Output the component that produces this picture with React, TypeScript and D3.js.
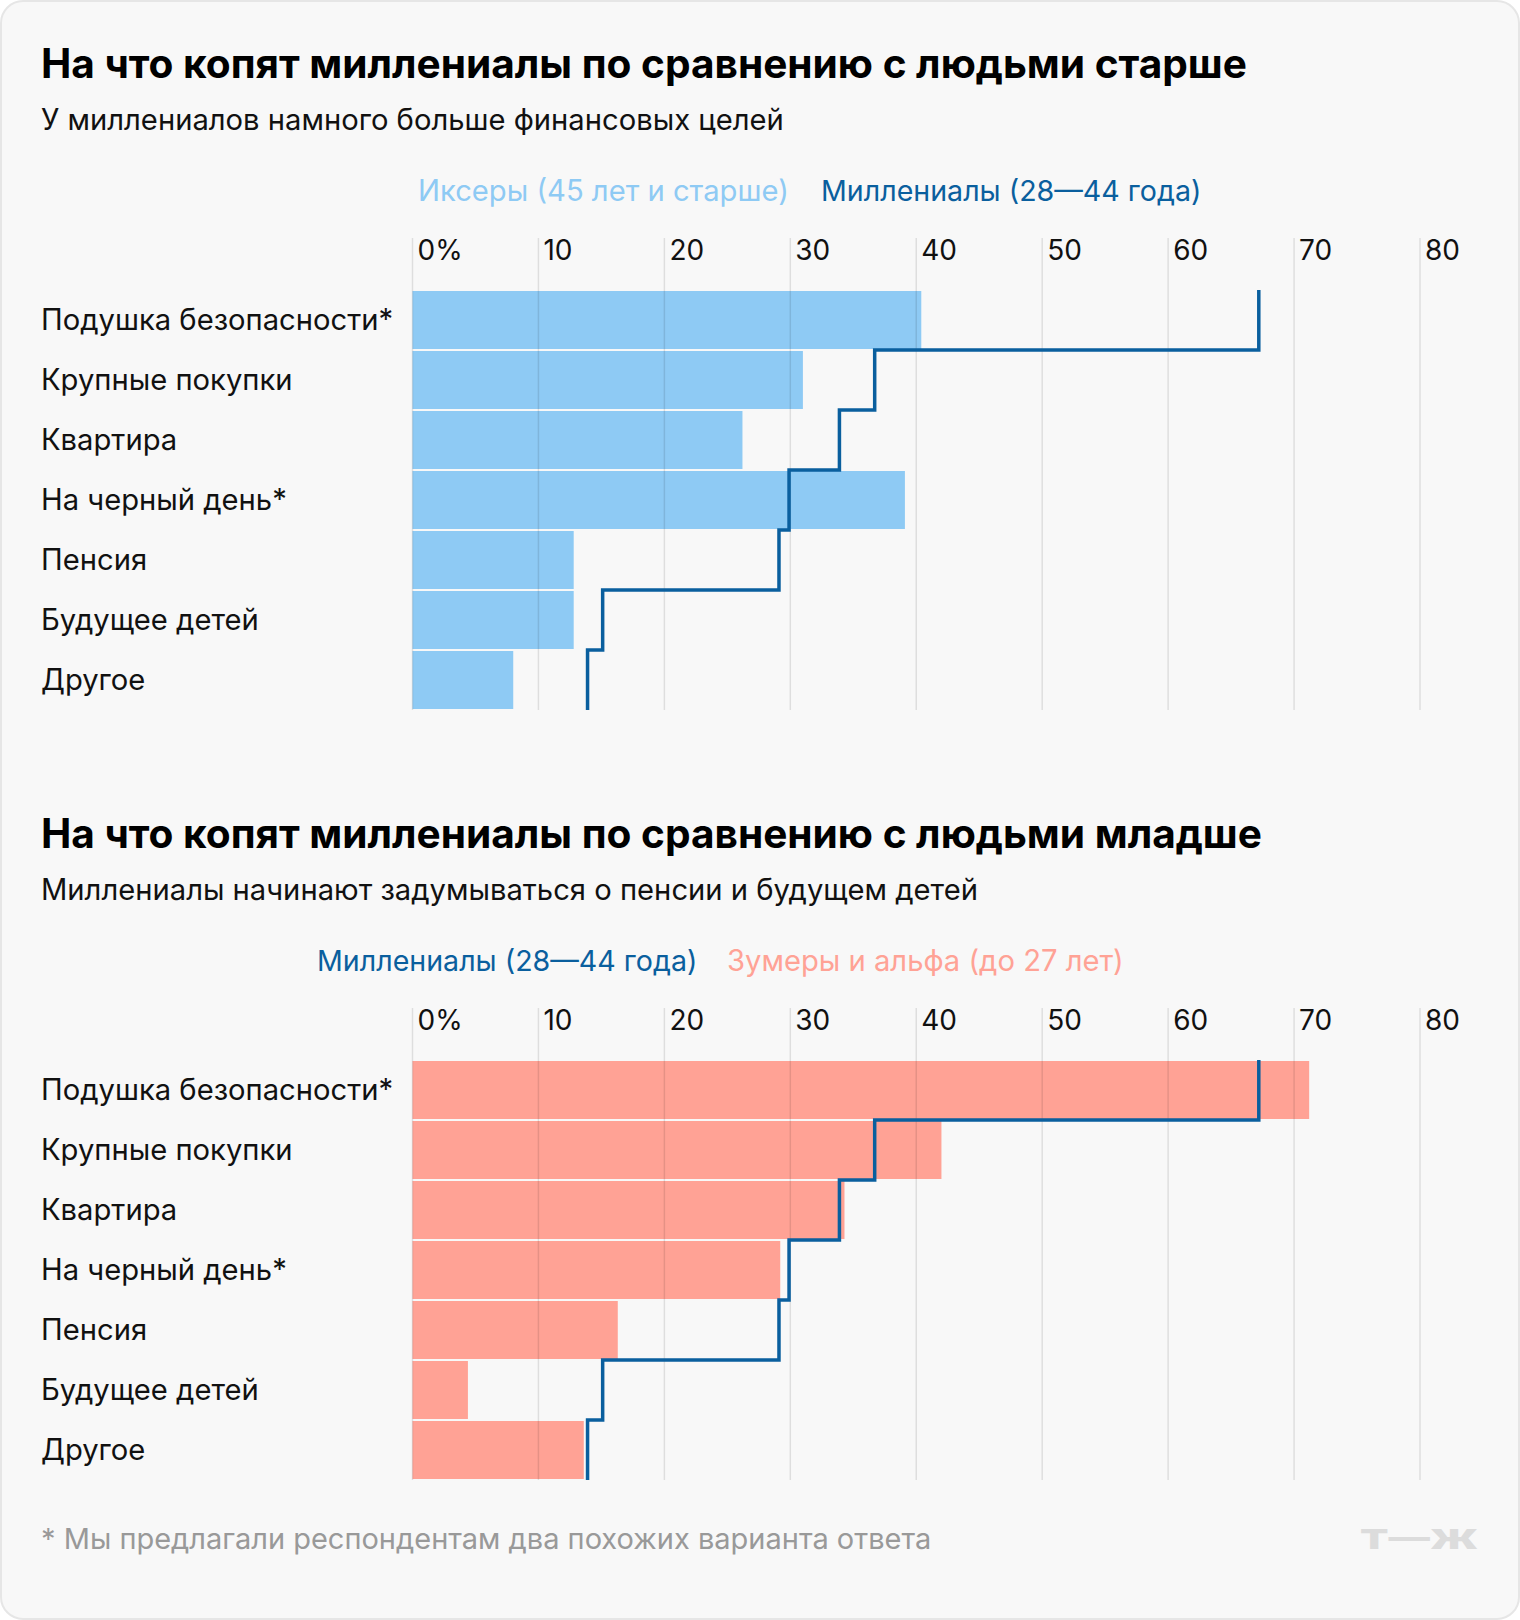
import React from "react";
import * as d3 from "d3";

const categories = [
  "Подушка безопасности*",
  "Крупные покупки",
  "Квартира",
  "На черный день*",
  "Пенсия",
  "Будущее детей",
  "Другое",
];
const xersValues = [40.4, 31.0, 26.2, 39.1, 12.8, 12.8, 8.0];
const millennialsValues = [67.2, 36.7, 33.9, 29.9, 29.1, 15.1, 13.9];
const zoomersValues = [71.2, 42.0, 34.3, 29.2, 16.3, 4.4, 13.6];
const tickValues = [0, 10, 20, 30, 40, 50, 60, 70, 80];
const tickLabels = ["0%", "10", "20", "30", "40", "50", "60", "70", "80"];

const titles = [
  "На что копят миллениалы по сравнению с людьми старше",
  "На что копят миллениалы по сравнению с людьми младше",
];
const subtitles = [
  "У миллениалов намного больше финансовых целей",
  "Миллениалы начинают задумываться о пенсии и будущем детей",
];
const legendXers = "Иксеры (45 лет и старше)";
const legendMill = "Миллениалы (28—44 года)";
const legendZoom = "Зумеры и альфа (до 27 лет)";
const footnote = "* Мы предлагали респондентам два похожих варианта ответа";

const W = 1520;
const H = 1620;
const FONT = "Inter, 'Noto Sans', sans-serif";
const LIGHT_BLUE = "#8ecaf4";
const DARK_BLUE = "#0a5f9e";
const SALMON = "#ffa295";

const x = d3.scaleLinear().domain([0, 80]).range([412.5, 1420]);

type PanelProps = {
  offset: number;
  title: string;
  subtitle: string;
  legend: { text: string; color: string; x: number; size: number }[];
  bars: number[];
  barColor: string;
};

function Panel({ offset, title, subtitle, legend, bars, barColor }: PanelProps) {
  const y = d3
    .scaleBand<string>()
    .domain(categories)
    .range([290 + offset, 710 + offset])
    .padding(0);
  const bw = y.bandwidth();
  const pts: [number, number][] = [];
  categories.forEach((c, i) => {
    const y0 = y(c)!;
    pts.push([x(millennialsValues[i]), y0]);
    pts.push([x(millennialsValues[i]), y0 + bw]);
  });
  const line = d3.line<[number, number]>().x((d) => d[0]).y((d) => d[1]);
  return (
    <g>
      <text x={41} y={78 + offset} fontFamily={FONT} fontWeight={700} fontSize={40.6} fill="#000">
        {title}
      </text>
      <text x={41} y={130 + offset} fontFamily={FONT} fontSize={29.2} fill="#111">
        {subtitle}
      </text>
      {legend.map((l) => (
        <text key={l.text} x={l.x} y={201 + offset} fontFamily={FONT} fontSize={l.size} fill={l.color}>
          {l.text}
        </text>
      ))}
      {categories.map((c, i) => (
        <rect
          key={c}
          x={x(0)}
          y={y(c)! + 1}
          width={x(bars[i]) - x(0)}
          height={bw - 2}
          fill={barColor}
        />
      ))}
      {tickValues.map((t, i) => (
        <g key={t}>
          <line
            x1={x(t)}
            x2={x(t)}
            y1={238 + offset}
            y2={710 + offset}
            stroke="rgba(0,0,0,0.1)"
            strokeWidth={1.5}
          />
          <text x={x(t) + 5} y={260 + offset} fontFamily={FONT} fontSize={28} fill="#111">
            {tickLabels[i]}
          </text>
        </g>
      ))}
      {categories.map((c) => (
        <text
          key={c}
          x={41}
          y={y(c)! + bw / 2}
          dy="0.35em"
          fontFamily={FONT}
          fontSize={29.2}
          fill="#111"
        >
          {c}
        </text>
      ))}
      <path d={line(pts)!} fill="none" stroke={DARK_BLUE} strokeWidth={3.5} />
    </g>
  );
}

export default function App() {
  return (
    <svg
      width={W}
      height={H}
      style={{ position: "absolute", left: 0, top: 0, display: "block" }}
    >
      <rect x={1} y={1} width={W - 2} height={H - 2} rx={22} fill="#f8f8f8" stroke="#e6e6e6" strokeWidth={2} />
      <Panel
        offset={0}
        title={titles[0]}
        subtitle={subtitles[0]}
        legend={[
          { text: legendXers, color: LIGHT_BLUE, x: 418, size: 29.2 },
          { text: legendMill, color: DARK_BLUE, x: 821, size: 28.6 },
        ]}
        bars={xersValues}
        barColor={LIGHT_BLUE}
      />
      <Panel
        offset={770}
        title={titles[1]}
        subtitle={subtitles[1]}
        legend={[
          { text: legendMill, color: DARK_BLUE, x: 317, size: 28.6 },
          { text: legendZoom, color: SALMON, x: 727, size: 29.2 },
        ]}
        bars={zoomersValues}
        barColor={SALMON}
      />
      <text x={41} y={1549} fontFamily={FONT} fontSize={29} fill="#999">
        {footnote}
      </text>
      <text
        x={1360}
        y={1549}
        fontFamily={FONT}
        fontWeight={900}
        fontSize={27}
        fill="#dcdcdc"
        textLength={118}
        lengthAdjust="spacingAndGlyphs"
      >
        Т—Ж
      </text>
    </svg>
  );
}
